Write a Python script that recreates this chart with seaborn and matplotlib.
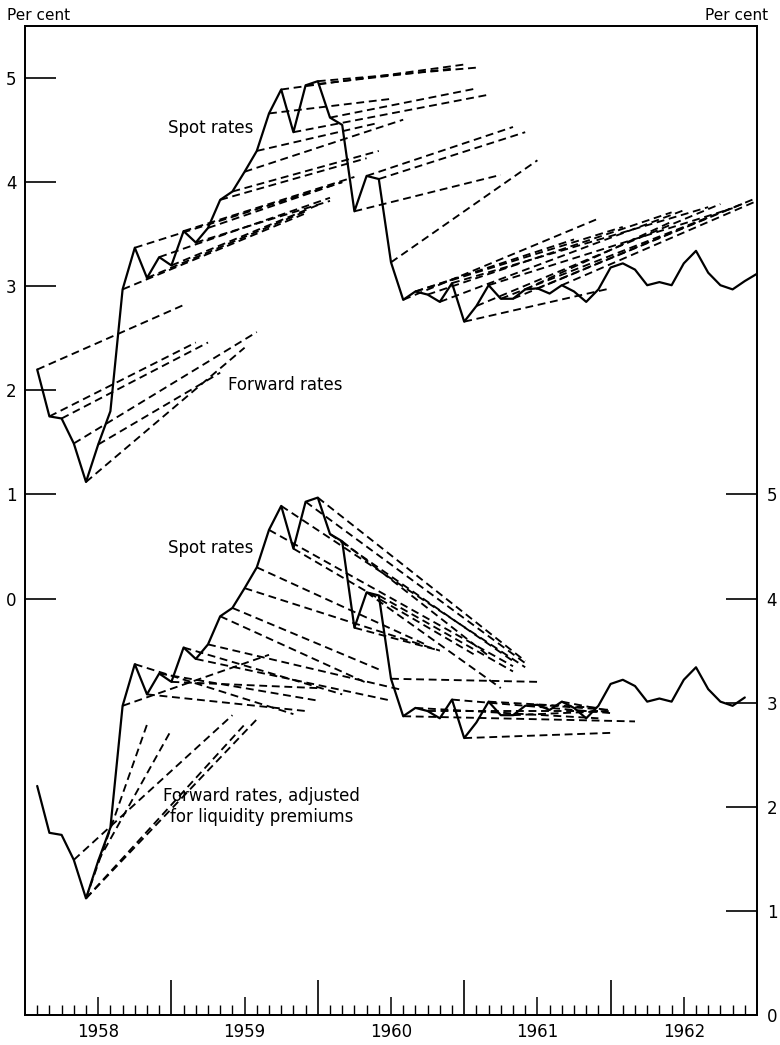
import pandas as pd
import matplotlib
matplotlib.use("Agg")
import matplotlib.pyplot as plt
from matplotlib.ticker import FixedLocator
import seaborn as sns

# ================================================================
# Monthly spot rates (month 1 = Jan 1958 + 1 month), per cent.
spot_month = list(range(1, 61))
spot_rate = [2.20, 1.75, 1.73, 1.49, 1.12, 1.48, 1.80, 2.97, 3.37, 3.08,
             3.28, 3.20, 3.53, 3.42, 3.56, 3.83, 3.91, 4.10, 4.30, 4.66,
             4.89, 4.48, 4.93, 4.97, 4.62, 4.55, 3.72, 4.06, 4.03, 3.23,
             2.87, 2.95, 2.92, 2.85, 3.03, 2.66, 2.81, 3.01, 2.88, 2.88,
             2.97, 2.98, 2.93, 3.01, 2.95, 2.85, 2.97, 3.18, 3.22, 3.16,
             3.01, 3.04, 3.01, 3.22, 3.34, 3.13, 3.01, 2.97, 3.05, 3.12]

# Forward rates: start month (on spot curve), end month, rate at end.
fwd_start = [1, 2, 3, 4, 5, 6, 8, 9, 10, 11, 12, 13, 14, 15, 16, 17, 18,
             19, 20, 21, 22, 23, 24, 25, 27, 28, 29, 30, 31, 32, 32, 33,
             34, 35, 36, 37, 38, 39, 40, 41, 42, 44]
fwd_end = [13, 14, 15, 19, 18, 16, 23, 26, 23, 25, 24, 27, 25, 26, 28, 29, 31,
           29, 30, 36, 38, 35, 37, 37, 39, 40, 41, 42, 47, 45, 49, 53,
           54, 56, 48, 57, 58, 59, 60, 53, 56, 60]
fwd_end_rate = [2.82, 2.46, 2.46, 2.56, 2.41, 2.17, 3.70, 4.00, 3.72, 3.85,
                3.78, 4.05, 3.82, 4.00, 4.23, 4.30, 4.60, 4.57, 4.80, 5.13,
                4.84, 5.09, 5.10, 4.90, 4.07, 4.53, 4.48, 4.21, 3.65, 3.45,
                3.57, 3.71, 3.73, 3.76, 2.98, 3.79, 3.75, 3.80, 3.85, 3.62,
                3.66, 3.82]

# Forward rates adjusted for liquidity premiums.
adj_start = [4, 5, 5, 5, 6, 8, 9, 10, 11, 12, 13, 14, 15, 16, 17, 18, 19,
             20, 21, 22, 23, 24, 25, 26, 27, 28, 29, 30, 31, 32, 33, 35,
             36, 38, 40, 42, 44]
adj_end = [17, 18, 19, 10, 12, 20, 22, 23, 24, 24, 26, 30, 31, 28, 29, 34, 33,
           40, 41, 37, 41, 41, 40, 38, 34, 39, 40, 42, 50, 47, 47, 48,
           48, 47, 48, 48, 48]
adj_end_rate = [2.88, 2.79, 2.84, 2.79, 2.74, 3.46, 2.89, 2.92, 3.02, 3.14,
                3.08, 3.02, 3.12, 3.19, 3.32, 3.50, 3.55, 3.35, 3.34, 3.45,
                3.38, 3.40, 3.40, 3.45, 3.50, 3.14, 3.30, 3.20, 2.82, 2.85,
                2.92, 2.90, 2.71, 2.95, 2.92, 2.93, 2.92]

year_labels = ["1958", "1959", "1960", "1961", "1962"]
# ================================================================


def to_year(m):
    return 1958 + m / 12


spot_df = pd.DataFrame({"year": [to_year(m) for m in spot_month], "rate": spot_rate})


def segments(starts, ends, end_rates):
    rows = []
    for i, (s, e, r) in enumerate(zip(starts, ends, end_rates)):
        rows.append(dict(line=i, year=to_year(s), rate=spot_rate[s - 1]))
        rows.append(dict(line=i, year=to_year(e), rate=r))
    return pd.DataFrame(rows)


fwd_df = segments(fwd_start, fwd_end, fwd_end_rate)
adj_df = segments(adj_start, adj_end, adj_end_rate)

sns.set_theme(style="ticks", rc={"axes.edgecolor": "black", "xtick.color": "black",
                                 "ytick.color": "black", "text.color": "black"})
plt.rcParams["font.family"] = ["DejaVu Sans"]

fig = plt.figure(figsize=(7.8, 10.45), dpi=100)
ax = fig.add_axes([25 / 780, 30 / 1045, 732 / 780, 989 / 1045])
ax2 = ax.twinx()

dash = dict(color="black", lw=1.35, linestyle=(0, (4.2, 2.5)), units="line", estimator=None)
solid = dict(color="black", lw=1.6)

# Upper panel: left scale.
sns.lineplot(data=spot_df, x="year", y="rate", ax=ax, **solid)
sns.lineplot(data=fwd_df, x="year", y="rate", ax=ax, **dash)
# Lower panel: right scale.
sns.lineplot(data=spot_df.iloc[:-1], x="year", y="rate", ax=ax2, **solid)
sns.lineplot(data=adj_df, x="year", y="rate", ax=ax2, **dash)

ax.set_xlim(1958, 1963)
ax.set_ylim(-4, 5.5)
ax2.set_ylim(0, 9.5)
for a in (ax, ax2):
    a.set_xlabel("")
    a.set_ylabel("")
    for sp in a.spines.values():
        sp.set_visible(True)
        sp.set_linewidth(1.3)
        sp.set_color("black")

# Y ticks.
ax.set_yticks(range(0, 6))
ax.tick_params(axis="y", direction="in", length=22, width=1.2, labelsize=12, pad=6)
ax2.set_yticks(range(0, 6))
ax2.tick_params(axis="y", direction="in", length=22, width=1.2, labelsize=12, pad=7)

# X ticks: labels at mid-year, monthly minor ticks, tall ticks at year ends.
ax.set_xticks([1958.5 + i for i in range(5)], labels=year_labels)
ax.xaxis.set_minor_locator(FixedLocator([to_year(m) for m in range(1, 60) if m % 12 != 0]))
ax.tick_params(axis="x", which="major", direction="in", length=13, width=1.1, labelsize=12, pad=6)
ax.tick_params(axis="x", which="minor", direction="in", length=7, width=1.0)
sec = ax.secondary_xaxis("bottom")
sec.set_xticks(range(1959, 1963))
sec.tick_params(direction="in", length=25, width=1.2, labelbottom=False)

# Annotations.
ax.text(to_year(15.2), 4.52, "Spot rates", ha="center", va="center", fontsize=12)
ax.text(to_year(21.3), 2.05, "Forward rates", ha="center", va="center", fontsize=12)
ax2.text(to_year(15.2), 4.49, "Spot rates", ha="center", va="center", fontsize=12)
ax2.text(to_year(19.4), 2.0, "Forward rates, adjusted\nfor liquidity premiums",
         ha="center", va="center", fontsize=12, linespacing=1.2)

fig.text(7 / 780, 1 - 15 / 1045, "Per cent", ha="left", va="center", fontsize=11)
fig.text(768 / 780, 1 - 15 / 1045, "Per cent", ha="right", va="center", fontsize=11)

plt.savefig("out.png", dpi=100)
